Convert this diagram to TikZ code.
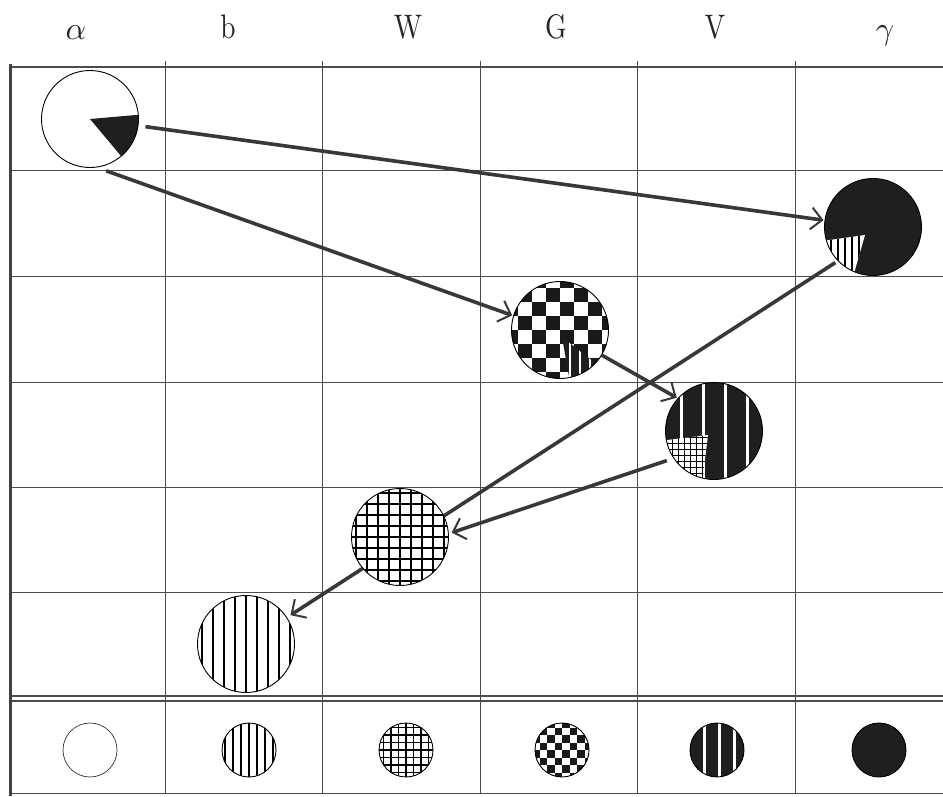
\documentclass[tikz,border=0pt]{standalone}
\usepackage{fontspec}
\usetikzlibrary{arrows.meta}
\pgfdeclarelayer{gridlayer}
\pgfdeclarelayer{linklayer}
\pgfsetlayers{gridlayer,linklayer,main}

% vertical hatching: spacing, count on each side, line width
\newcommand\stripesV[3]{%
  \foreach \k in {-#2,...,#2} \draw[line width=#3] (\k*#1,-62) -- (\k*#1,62);}
% square hatching
\newcommand\hatchgrid[3]{%
  \stripesV{#1}{#2}{#3}%
  \foreach \k in {-#2,...,#2} \draw[line width=#3] (-62,\k*#1) -- (62,\k*#1);}
% chequer board: square size, count on each side
\newcommand\chequer[2]{%
  \fill[black!90] (-62,-62) rectangle (62,62);
  \foreach \i in {-#2,...,#2}{\foreach \j in {-#2,...,#2}{%
    \pgfmathtruncatemacro\chk{mod(\i+\j+40,2)}%
    \ifnum\chk=0 \fill[white] (\i*#1,\j*#1) rectangle ++(#1,#1);\fi}}}
% dark ground with white vertical lines
\newcommand\darklines[2]{%
  \fill[black!88] (-62,-62) rectangle (62,62);
  \foreach \x in {#1} \draw[white,line width=#2] (\x,-62) -- (\x,62);}
% clip to a wedge: apex dx, dy, start angle, end angle
\newcommand\wedgeclip[4]{\clip (#1,#2) -- +(#3:110) -- +(#4:110) -- cycle;}
% headings: narrow roman capitals and enlarged Greek letters
\newcommand\headtext[1]{\scalebox{2.75}[3.4]{\fontsize{10}{12}\selectfont #1}}
\newcommand\headgreek[1]{\scalebox{3.2}{\fontsize{10}{12}\selectfont $#1$}}

\tikzset{
  pat/.style={path picture={\begin{scope}[x=1pt,y=1pt,
      shift={(path picture bounding box.center)}]#1\end{scope}}},
  disc/.style={circle, draw=black, line width=0.9pt, fill=white,
    minimum size=97pt, inner sep=0pt},
  smalldisc/.style={disc, minimum size=54pt},
  gridline/.style={draw=black!70, line width=0.8pt},
  heading/.style={anchor=base, inner sep=0pt, text=black!85},
  link/.style={draw=black!78, line width=3.6pt,
    -{Straight Barb[length=11pt,width=22pt,line width=2pt]}},
}

\begin{document}
\begin{tikzpicture}[x=1pt,y=1pt]
\useasboundingbox (0,0) rectangle (943,-796);

% column headings
\node[heading] (hA) at (76,-39) {\headgreek{\alpha}};
\node[heading] (hB) at (228,-38) {\headtext{b}};
\node[heading] (hW) at (408,-38) {\headtext{W}};
\node[heading] (hG) at (556,-38) {\headtext{G}};
\node[heading] (hV) at (715,-38) {\headtext{V}};
\node[heading] (hC) at (885,-39) {\headgreek{\gamma}};

% table rules
\begin{pgfonlayer}{gridlayer}
  \draw[gridline, line width=1.3pt] (10,-67) -- (943,-67);
  \foreach \y in {170,276,382,487,592}
    \draw[gridline] (10,-\y) -- (943,-\y);
  \draw[gridline, line width=1.4pt] (10,-696) -- (943,-696);
  \draw[gridline, line width=1.4pt] (10,-701) -- (943,-701);
  \draw[gridline] (10,-793) -- (943,-793);
  \foreach \x in {165,322,480,637,795}
    \draw[gridline] (\x,-61) -- (\x,-793);
  \draw[draw=black!75, line width=3pt] (10,-64) -- (10,-796);
\end{pgfonlayer}

% main discs
\node[disc, pat={\fill[black!88] (0,0) -- +(-50:110) -- +(5:110) -- cycle;}]
  (a) at (90,-119) {};
\node[disc, pat={\fill[black!88] (-62,-62) rectangle (62,62);
    \begin{scope}\wedgeclip{-8}{-8}{188}{254}
      \fill[white] (-62,-62) rectangle (62,62);
      \stripesV{7}{8}{1.4pt}\end{scope}}]
  (g) at (873,-227) {};
\node[disc, pat={\chequer{14}{4}
    \begin{scope}\wedgeclip{2}{-7}{-80}{-38}
      \darklines{-40,-30,...,40}{2pt}\end{scope}}]
  (G) at (560,-330) {};
\node[disc, pat={\darklines{-33,-11,11,33}{3pt}
    \begin{scope}\wedgeclip{-6}{-4}{187}{263}
      \fill[white] (-62,-62) rectangle (62,62);
      \hatchgrid{6}{10}{1pt}\end{scope}}]
  (V) at (714,-431) {};
\node[disc, pat={\hatchgrid{11}{5}{1.3pt}}] (W) at (400,-537) {};
\node[disc, pat={\stripesV{11}{5}{1.4pt}}] (b) at (246,-644) {};

% key discs
\node[smalldisc, draw=black!80, line width=0.7pt,
  pat={\fill (0,0) circle (1.2);}] (ka) at (90,-750) {};
\node[smalldisc, pat={\stripesV{8}{4}{1.2pt}}] (kb) at (249,-750) {};
\node[smalldisc, pat={\hatchgrid{7.5}{4}{1.1pt}}] (kW) at (406,-750) {};
\node[smalldisc, pat={\chequer{7.5}{4}}] (kG) at (562,-750) {};
\node[smalldisc, pat={\darklines{-12.5,2.5,17.5}{2.2pt}}] (kV) at (717,-750) {};
\node[smalldisc, fill=black!88] (kg) at (879,-750) {};

% connectors
\begin{pgfonlayer}{linklayer}
  \draw[link, shorten <=7pt, shorten >=1pt] (a) -- (g);
  \draw[link, shorten <=10pt, shorten >=1pt] (a.-82) -- (G.163);
  \draw[link, shorten >=1pt] (G.-31) -- (V.138);
  \draw[link, shorten <=7pt, shorten >=3pt] (V.214) -- (W.4);
  \draw[link, shorten <=3pt, shorten >=4pt] (g.224) -- (b.33);
\end{pgfonlayer}
\end{tikzpicture}
\end{document}
